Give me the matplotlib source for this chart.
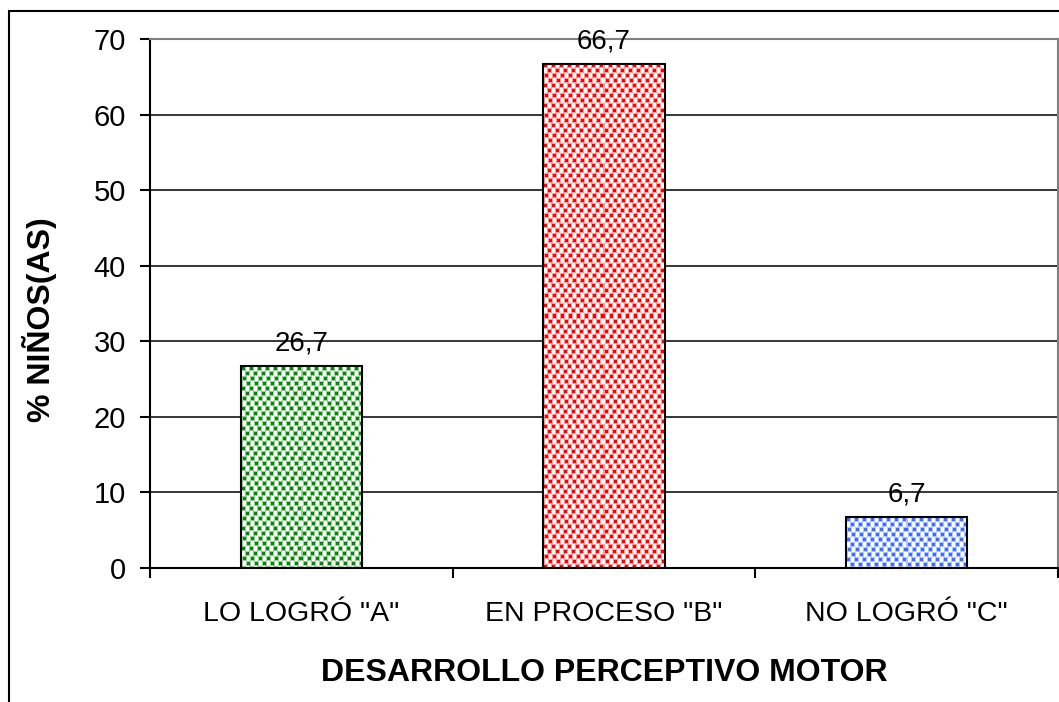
import numpy as np
import matplotlib
matplotlib.use("Agg")
import matplotlib.pyplot as plt
from matplotlib.patches import Rectangle

categories = ['LO LOGRÓ "A"', 'EN PROCESO "B"', 'NO LOGRÓ "C"']
values = [26.7, 66.7, 6.7]
value_labels = ["26,7", "66,7", "6,7"]
dot_colors = ["#008a00", "#ff0000", "#3a6cff"]
yticks = [0, 10, 20, 30, 40, 50, 60, 70]
xlabel = "DESARROLLO PERCEPTIVO MOTOR"
ylabel = "% NIÑOS(AS)"

plt.rcParams['font.family'] = ['Liberation Sans', 'DejaVu Sans']

W, H = 1059, 702
fig = plt.figure(figsize=(W / 100, H / 100), dpi=100)
ax = fig.add_axes([150 / W, 1 - 568 / H, (1058 - 150) / W, (568 - 39) / H])

x = np.arange(len(categories))
ax.set_xlim(-0.5, len(categories) - 0.5)
ax.set_ylim(0, 70)

bars = ax.bar(x, values, width=0.4, facecolor='none', edgecolor='black',
              linewidth=1.5, zorder=3)

# dotted (stippled) texture inside each bar
def texture(wpx, hpx, color):
    rgb = np.array(matplotlib.colors.to_rgb(color))
    soft = 0.4 * rgb + 0.6
    img = np.ones((hpx, wpx, 3))
    jj, ii = np.mgrid[0:hpx, 0:wpx]
    band = jj // 5
    shift = np.where(band % 2 == 0, 0, 4) + (band // 2 % 2) * 1
    u = (ii - shift) % 8
    v = jj % 5
    core = (u >= 1) & (u <= 3) & (v >= 1) & (v <= 3)
    halo = (u <= 4) & (v <= 4) & ~core
    img[halo] = soft
    img[core] = rgb
    return img

for b, col in zip(bars, dot_colors):
    x0, y0 = b.get_x(), b.get_y()
    x1, y1 = x0 + b.get_width(), y0 + b.get_height()
    p0 = ax.transData.transform((x0, y0))
    p1 = ax.transData.transform((x1, y1))
    wpx = max(int(round(abs(p1[0] - p0[0]))), 1)
    hpx = max(int(round(abs(p1[1] - p0[1]))), 1)
    im = ax.imshow(texture(wpx, hpx, col), extent=(x0, x1, y0, y1),
                   aspect='auto', interpolation='nearest', zorder=2)
    im.set_clip_path(b)

ax.set_xlim(-0.5, len(categories) - 0.5)
ax.set_ylim(0, 70)

for b, lab in zip(bars, value_labels):
    ax.annotate(lab, (b.get_x() + b.get_width() / 2, b.get_height()),
                xytext=(0, 7), textcoords='offset points',
                ha='center', va='bottom', fontsize=20)

# grid
ax.set_yticks(yticks)
ax.yaxis.grid(True, color='black', linewidth=1.1, zorder=0)
ax.set_axisbelow(True)

ax.spines['top'].set_color('#808080')
ax.spines['right'].set_color('#808080')
for s in ax.spines.values():
    s.set_linewidth(1.5)

ax.tick_params(axis='y', direction='out', length=7.2, width=1.5,
               labelsize=21, pad=10)
ax.set_xticks(x)
ax.set_xticklabels(categories)
ax.set_xticks(np.arange(-0.5, len(categories), 1.0), minor=True)
ax.tick_params(axis='x', which='major', length=0, labelsize=20.5, pad=24)
ax.tick_params(axis='x', which='minor', direction='out', length=7.2, width=1.5)

ax.set_xlabel(xlabel, fontsize=23, fontweight='bold', labelpad=22)
ax.set_ylabel(ylabel, fontsize=23, fontweight='bold')
ax.yaxis.set_label_coords(-0.102, 0.469)

fig.add_artist(Rectangle((9 / W, -0.1), 1.2, (1 - 11 / H) + 0.1,
                         transform=fig.transFigure, fill=False,
                         edgecolor='black', linewidth=1.5))

fig.savefig("out.png", dpi=100)
